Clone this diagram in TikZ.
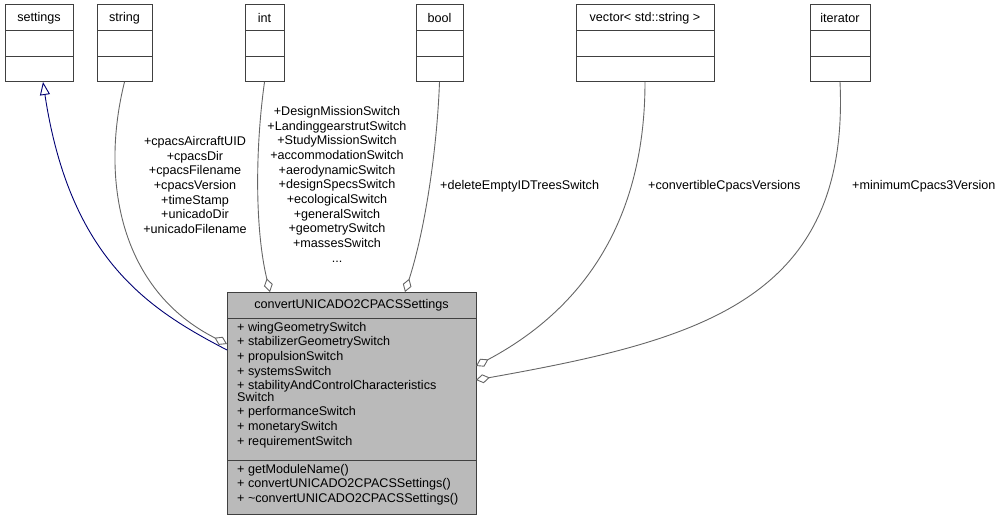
\documentclass[tikz,border=0pt]{standalone}
\usepackage{fontspec}
\setmainfont{Liberation Sans}
\usetikzlibrary{arrows.meta}
\begin{document}
\begin{tikzpicture}[x=1pt,y=-1pt,font=\fontsize{12.6}{14}\selectfont,
 box/.style={draw=black!75,line width=1pt},
 agg/.style={draw=black!60,line width=0.9pt,{Diamond[open,length=14pt,width=9pt,fill=white]}-},
 inh/.style={draw=blue!45!black,line width=0.9pt,-{Triangle[open,length=13pt,width=10pt,fill=white]}},
 lbl/.style={align=center,inner sep=0pt}]
\useasboundingbox (0,0) rectangle (1006,521);
\newcommand{\cls}[4]{% name, x1, x2, label
 \draw[box] (#2,5) rectangle (#3,82); \draw[box] (#2,31)--(#3,31); \draw[box] (#2,57)--(#3,57);
 \node[inner sep=0pt] (#1) at ({(#2+#3)/2},18) {#4};
 \coordinate (#1b) at ({(#2+#3)/2},82);}
\cls{set}{5}{73}{settings}
\cls{str}{97}{152}{string}
\cls{int}{245}{284}{int}
\cls{bool}{416}{463}{bool}
\cls{vec}{576}{714}{vector< std::string >}
\cls{it}{810}{870}{iterator}
% main class
\fill[black!27] (227,292) rectangle (476,514);
\draw[box] (227,292) rectangle (476,514);
\draw[box] (227,318)--(476,318); \draw[box] (227,460)--(476,460);
\node[inner sep=0pt] (main) at (351.5,305) {convertUNICADO2CPACSSettings};
\node[anchor=north west,align=left,inner sep=0pt,font=\fontsize{12.6}{14.6}\selectfont] at (237,322) {+ wingGeometrySwitch\\+ stabilizerGeometrySwitch\\+ propulsionSwitch\\+ systemsSwitch\\+ stabilityAndControlCharacteristics\\[-3pt]Switch\\+ performanceSwitch\\+ monetarySwitch\\+ requirementSwitch};
\node[anchor=north west,align=left,inner sep=0pt,font=\fontsize{12.6}{14.6}\selectfont] at (237,464) {+ getModuleName()\\+ convertUNICADO2CPACSSettings()\\+ \textasciitilde convertUNICADO2CPACSSettings()};
\coordinate (mL1) at (227,350);
\coordinate (mL2) at (227,344);
\coordinate (mT1) at (270,292);
\coordinate (mT2) at (405,292);
\coordinate (mR1) at (476,366);
\coordinate (mR2) at (476,380);
% connectors
\draw[inh] (mL1) .. controls (150,310) and (70,260) .. (43,82);
\draw[agg] (mL2) .. controls (120,290) and (100,180) .. (strb);
\draw[agg] (mT1) .. controls (255,230) and (255,150) .. (intb);
\draw[agg] (mT2) .. controls (425,230) and (437,150) .. (boolb);
\draw[agg] (mR1) .. controls (600,300) and (645,200) .. (vecb);
\draw[agg] (mR2) .. controls (700,340) and (850,300) .. (itb);
% labels
\node[lbl,font=\fontsize{12.6}{14.7}\selectfont,anchor=north] at (195,136) {+cpacsAircraftUID\\+cpacsDir\\+cpacsFilename\\+cpacsVersion\\+timeStamp\\+unicadoDir\\+unicadoFilename};
\node[lbl,font=\fontsize{12.6}{14.7}\selectfont,anchor=north] at (337,106) {+DesignMissionSwitch\\+LandinggearstrutSwitch\\+StudyMissionSwitch\\+accommodationSwitch\\+aerodynamicSwitch\\+designSpecsSwitch\\+ecologicalSwitch\\+generalSwitch\\+geometrySwitch\\+massesSwitch\\...};
\node[lbl,anchor=west] at (440,186) {+deleteEmptyIDTreesSwitch};
\node[lbl,anchor=west] at (648,186) {+convertibleCpacsVersions};
\node[lbl,anchor=west] at (852,186) {+minimumCpacs3Version};
\end{tikzpicture}
\end{document}
